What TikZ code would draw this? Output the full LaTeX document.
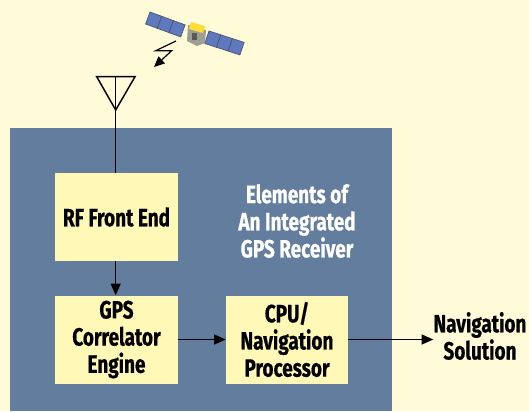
\documentclass[tikz,border=0pt]{standalone}
\usepackage{fontspec}
\setmainfont[FakeStretch=0.76,BoldFeatures={FakeBold=0.6}]{Fira Sans}
\usetikzlibrary{positioning, calc}
\usetikzlibrary{arrows.meta}
\definecolor{paper}{HTML}{FFFAD7}
\definecolor{slate}{HTML}{627D9E}
\definecolor{boxfill}{HTML}{FFF8B6}
\definecolor{panel}{HTML}{5F79BF}
\tikzset{
    block/.style={fill=boxfill, minimum width=3.66cm, minimum height=2.64cm, inner sep=0pt,
        align=center, font=\fontsize{21.3}{23.2}\selectfont\bfseries},
    caption/.style={inner sep=0pt, align=center, font=\fontsize{21.3}{23.2}\selectfont\bfseries},
    wire/.style={line width=1.25pt, -{Triangle[length=10pt,width=8.5pt]}},
    plain/.style={line width=1.25pt},
    wing/.style={fill=panel, draw=panel!55!black!70!gray, line width=0.6pt}
}
\begin{document}
\begin{tikzpicture}[x=0.03cm,y=-0.03cm]
    \useasboundingbox (0,0) rectangle (529,411);
    \fill[paper] (0,0) rectangle (529,411);
    \fill[slate] (10,128) rectangle (392,411);
    % satellite
    \foreach \i in {0,1,2} {
        \draw[wing] ($(150,12)+\i*(11.7,4.3)$) -- ++(11.7,4.3) -- ++(-4.4,12) -- ++(-11.7,-4.3) -- cycle;
        \draw[wing] ($(209,31)+\i*(11.7,3.8)$) -- ++(11.7,3.8) -- ++(-4.2,12.5) -- ++(-11.7,-3.8) -- cycle;
    }
    \fill[gray!75!paper] (188,25) -- (206,30) -- (205,43) -- (197,46) -- (187,41) -- cycle;
    \fill[yellow!75!orange!80!white] (191,22) -- (205,26) -- (203,33) -- (189,29) -- cycle;
    \fill[black!65] (192,33) rectangle (197,40);
    % lightning bolt
    \coordinate (bolt) at (176,41);
    \coordinate (boltend) at (154,67);
    \draw[line width=1pt, -{Triangle[length=9pt,width=8pt]}] (bolt) -- (155.7,50.7) -- (171.7,50.7) -- (boltend);
    % antenna
    \coordinate (antl) at (96.7,76.7);
    \coordinate (antr) at (135,76.7);
    \coordinate (antt) at (115.7,110);
    \coordinate (antc) at (115.7,76.7);
    \draw[plain] (antl) -- (antr) -- (antt) -- cycle;
    % blocks
    \node[block] (rf) at (116.5,217) {RF Front End};
    \node[block] (corr) at (116.5,339.5) {GPS\\Correlator\\Engine};
    \node[block] (cpu) at (287,339.5) {CPU/\\Navigation\\Processor};
    \node[caption, text=white] (title) at (297,221) {Elements of\\An Integrated\\GPS Receiver};
    \node[caption] (sol) at (480,336) {Navigation\\Solution};
    % connectors
    \draw[plain] (antc) -- (rf.north -| antc);
    \draw[wire] (rf.south -| antc) -- (corr.north -| antc);
    \draw[wire] (corr) -- (cpu);
    \draw[wire] (cpu.east) -- (cpu.east -| sol.west);
\end{tikzpicture}
\end{document}
